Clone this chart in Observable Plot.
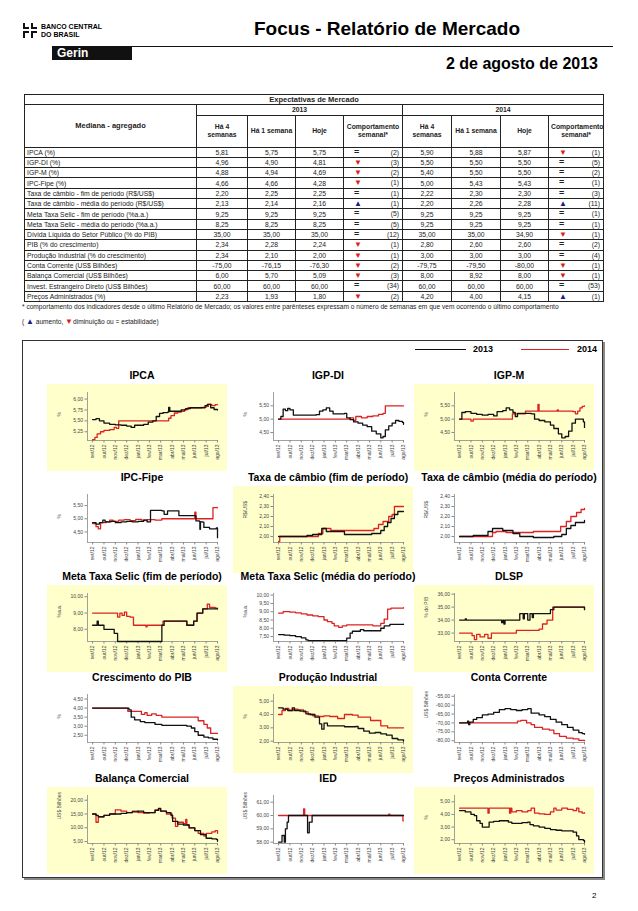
<!DOCTYPE html>
<html><head><meta charset="utf-8">
<script src="https://cdn.jsdelivr.net/npm/d3@7"></script>
<script src="https://cdn.jsdelivr.net/npm/@observablehq/plot@0.6"></script>
<style>
body{margin:0;background:#fff;font-family:"Liberation Sans",Arial,sans-serif;color:#000;}
#page{position:relative;width:638px;height:911px;overflow:hidden;background:#fff;}
.abs{position:absolute;}
#tbl{position:absolute;left:24px;top:94px;width:579px;border-collapse:collapse;table-layout:fixed;font-size:6.8px;color:#222;border:1.5px solid #111;}
#tbl td{border:1px solid #222;padding:0 2px;height:9.3px;line-height:9px;white-space:nowrap;overflow:hidden;}
#tbl td.v{text-align:center;}
#tbl td.h{text-align:center;font-weight:bold;}
#tbl td.c{position:relative;}
.sym{position:absolute;left:10px;top:0;font-size:8px;line-height:9px;}
.wk{position:absolute;right:3px;top:0;}
.cell{position:absolute;width:180px;height:87px;}
.ttl{position:absolute;width:200px;text-align:center;font-weight:bold;font-size:10.5px;}
</style></head><body><div id="page">
<svg class="abs" style="left:21px;top:22px" width="18" height="17" viewBox="0 0 18 17">
<path d="M2 1 L2 7 L8 7 L8 5 L4 5 L4 1Z M10 1 L10 7 L16 7 L16 5 L12 5 L12 1Z M2 9 L2 16 L4 16 L4 11 L8 11 L8 9Z M10 9 L10 16 L12 16 L12 11 L16 11 L16 9Z" fill="#111"/>
</svg>
<div class="abs" style="left:41px;top:23px;font-size:7px;font-weight:bold;line-height:8px;">BANCO CENTRAL<br>DO BRASIL</div>
<div class="abs" style="left:254px;top:18px;font-size:19px;font-weight:bold;">Focus - Relatório de Mercado</div>
<div class="abs" style="left:52px;top:46px;width:561px;height:1px;background:#111;"></div>
<div class="abs" style="left:52px;top:47px;width:80px;height:13px;background:#111;color:#fff;font-weight:bold;font-size:12px;line-height:13px;padding-left:5px;box-sizing:border-box;">Gerin</div>
<div class="abs" style="left:420px;top:55px;width:178px;text-align:right;font-size:16px;font-weight:bold;">2 de agosto de 2013</div>
<table id="tbl"></table>
<div class="abs" style="left:22px;top:303px;font-size:6.6px;color:#222;">* comportamento dos indicadores desde o último Relatório de Mercado; os valores entre parênteses expressam o número de semanas em que vem ocorrendo o último comportamento</div>
<div class="abs" style="left:22px;top:317px;font-size:6.6px;color:#222;">( <span style="color:#1c1c8c;font-size:8px">▲</span> aumento, <span style="color:#d81f1f;font-size:8px">▼</span>diminuição ou = estabilidade)</div>
<div class="abs" style="left:22px;top:340px;width:579px;height:536px;border:1px solid #333;box-shadow:2px 2px 0 #888;"></div>
<div class="abs" style="left:415px;top:349px;width:51px;height:1.3px;background:#111;"></div>
<div class="abs" style="left:473px;top:344px;font-size:9px;font-weight:bold;">2013</div>
<div class="abs" style="left:521px;top:349px;width:48px;height:1.3px;background:#dd2222;"></div>
<div class="abs" style="left:577px;top:344px;font-size:9px;font-weight:bold;">2014</div>
<div class="abs" style="left:592px;top:891px;font-size:8px;">2</div>
<div id="charts"></div>
</div>
<script>
// ---------- table data ----------
const indicators = ["IPCA (%)","IGP-DI (%)","IGP-M (%)","IPC-Fipe (%)","Taxa de câmbio - fim de período (R$/US$)","Taxa de câmbio - média do período (R$/US$)","Meta Taxa Selic - fim de período (%a.a.)","Meta Taxa Selic - média do período (%a.a.)","Dívida Líquida do Setor Público (% do PIB)","PIB (% do crescimento)","Produção Industrial (% do crescimento)","Conta Corrente (US$ Bilhões)","Balança Comercial (US$ Bilhões)","Invest. Estrangeiro Direto (US$ Bilhões)","Preços Administrados (%)"];
const h4_2013 = ["5,81","4,96","4,88","4,66","2,20","2,13","9,25","8,25","35,00","2,34","2,34","-75,00","6,00","60,00","2,23"];
const h1_2013 = ["5,75","4,90","4,94","4,66","2,25","2,14","9,25","8,25","35,00","2,28","2,10","-76,15","5,70","60,00","1,93"];
const hoje_2013 = ["5,75","4,81","4,69","4,28","2,25","2,16","9,25","8,25","35,00","2,24","2,00","-76,30","5,09","60,00","1,80"];
const comp_2013 = ["=","▼","▼","▼","=","▲","=","=","=","▼","▼","▼","▼","=","▼"];
const sem_2013 = ["(2)","(3)","(2)","(1)","(1)","(1)","(5)","(5)","(12)","(1)","(1)","(2)","(3)","(34)","(2)"];
const h4_2014 = ["5,90","5,50","5,40","5,00","2,22","2,20","9,25","9,25","35,00","2,80","3,00","-79,75","8,00","60,00","4,20"];
const h1_2014 = ["5,88","5,50","5,50","5,43","2,30","2,26","9,25","9,25","35,00","2,60","3,00","-79,50","8,92","60,00","4,00"];
const hoje_2014 = ["5,87","5,50","5,50","5,43","2,30","2,28","9,25","9,25","34,90","2,60","3,00","-80,00","8,00","60,00","4,15"];
const comp_2014 = ["▼","=","=","=","=","▲","=","=","▼","=","=","▼","▼","=","▲"];
const sem_2014 = ["(1)","(5)","(2)","(1)","(3)","(11)","(1)","(1)","(1)","(2)","(4)","(1)","(1)","(53)","(1)"];

// ---------- chart data: [months since set/12, value] ----------
const monthLabels = ["set/12","out/12","nov/12","dez/12","jan/13","fev/13","mar/13","abr/13","mai/13","jun/13","jul/13","ago/13"];

const ipca13 = [[0,5.53],[0.3,5.55],[0.6,5.5],[1,5.45],[1.5,5.42],[2,5.41],[2.5,5.4],[3,5.38],[3.4,5.35],[3.7,5.4],[4.5,5.42],[4.9,5.47],[5.3,5.5],[5.6,5.6],[5.9,5.67],[6.2,5.69],[6.6,5.7],[6.7,5.81],[6.8,5.72],[7.3,5.72],[7.8,5.75],[8.2,5.78],[8.6,5.8],[9.5,5.8],[9.9,5.85],[10.1,5.88],[10.4,5.8],[10.7,5.76],[11,5.75]];
const ipca14 = [[0,5.07],[0.2,5.12],[0.4,5.2],[0.7,5.25],[1,5.28],[1.5,5.3],[1.9,5.35],[2.1,5.33],[2.3,5.5],[6.5,5.5],[6.7,5.56],[6.9,5.62],[7.2,5.68],[7.5,5.7],[7.8,5.72],[8.1,5.76],[8.4,5.8],[9.6,5.81],[10,5.83],[10.2,5.88],[10.5,5.85],[10.8,5.87],[11,5.87]];
const igpdi13 = [[0,5.0],[0.2,5.1],[0.4,5.38],[0.6,5.32],[0.8,5.4],[1.0,5.35],[1.3,5.15],[3.3,5.17],[3.6,5.3],[3.9,5.35],[4.2,5.42],[4.5,5.3],[4.8,5.2],[5.5,5.2],[5.8,5.22],[6.0,5.05],[6.3,4.98],[6.6,4.9],[7.0,4.85],[7.4,4.78],[7.8,4.72],[8.2,4.55],[8.6,4.45],[9.0,4.3],[9.2,4.35],[9.4,4.6],[9.7,4.75],[10.0,4.85],[10.3,4.95],[10.6,4.92],[10.9,4.88],[11,4.81]];
const igpdi14 = [[0,5.0],[6.0,5.0],[6.3,5.05],[6.6,4.95],[6.8,5.1],[7.3,5.05],[7.8,5.1],[8.3,5.12],[8.8,5.18],[9.2,5.22],[9.4,5.5],[11,5.5]];
const igpm13 = [[0,5.0],[0.2,5.25],[0.5,5.28],[1,5.22],[1.5,5.18],[2,5.15],[2.5,5.18],[3,5.12],[3.3,5.28],[3.8,5.32],[4.1,5.42],[4.4,5.35],[4.7,5.25],[4.9,5.1],[5.1,5.22],[6.3,5.2],[6.6,5.0],[7.0,4.95],[7.5,4.9],[8.0,4.78],[8.3,4.65],[8.7,4.45],[9.0,4.3],[9.3,4.35],[9.6,4.55],[9.9,4.85],[10.2,5.0],[10.6,5.0],[10.9,4.9],[11,4.69]];
const igpm14 = [[0,5.0],[1.0,4.93],[1.2,5.0],[4.6,5.0],[4.65,5.2],[5.6,5.2],[5.8,5.3],[6.8,5.3],[6.9,5.55],[7.0,5.3],[8.5,5.3],[8.6,5.35],[8.7,5.3],[10.0,5.28],[10.2,5.2],[10.4,5.3],[10.6,5.42],[10.8,5.48],[11,5.5]];
const fipe13 = [[0,4.85],[0.3,4.8],[0.6,4.85],[0.9,4.95],[1.1,4.88],[1.6,4.9],[2,4.85],[2.5,4.88],[3,4.9],[3.5,4.88],[4,4.9],[4.5,4.95],[4.8,4.88],[5.1,5.32],[6.1,5.3],[6.3,5.17],[6.6,5.3],[7.5,5.3],[7.6,5.12],[9.0,5.12],[9.1,4.92],[9.4,4.9],[9.45,4.6],[9.5,4.88],[9.7,4.87],[9.8,4.67],[10.3,4.62],[10.9,4.65],[11,4.28]];
const fipe14 = [[0,4.82],[0.3,4.7],[0.5,4.62],[0.7,4.85],[1.2,4.88],[1.5,4.95],[1.8,4.9],[2.3,4.95],[2.8,4.97],[3.3,4.93],[3.8,4.98],[4.3,4.95],[4.8,4.97],[5.5,4.95],[6.1,5.0],[8.9,5.0],[9.0,5.25],[9.1,5.0],[10.5,5.0],[10.6,5.42],[11,5.43]];
const cambioFim13 = [[0,2.0],[2.5,2.01],[3.0,2.02],[3.8,2.08],[4.2,2.05],[5.8,2.02],[8.2,2.03],[9.0,2.06],[9.3,2.1],[9.6,2.14],[9.9,2.18],[10.2,2.22],[10.5,2.25],[11,2.25]];
const cambioFim14 = [[0,1.95],[0.1,2.0],[3.3,2.0],[3.5,2.03],[3.9,2.08],[4.6,2.06],[8.1,2.06],[8.4,2.08],[8.8,2.12],[9.2,2.15],[9.7,2.2],[10.0,2.22],[10.2,2.3],[11,2.3]];
const cambioMed13 = [[0,2.0],[1.2,2.01],[2.5,2.05],[2.9,2.08],[3.8,2.06],[4.7,2.03],[5.3,2.0],[6.5,1.99],[8.3,2.0],[9.0,2.02],[9.4,2.08],[9.8,2.11],[10.2,2.14],[10.8,2.14],[11,2.16]];
const cambioMed14 = [[0,2.0],[2.9,2.04],[3.2,2.05],[4.1,2.04],[6.5,2.05],[8.6,2.05],[8.9,2.1],[9.4,2.15],[9.8,2.2],[10.3,2.24],[10.7,2.27],[11,2.28]];
const selicFim13 = [[0,8.25],[0.4,8.5],[0.5,8.25],[1.0,8.0],[1.9,7.75],[2.2,7.25],[6.1,8.25],[6.3,8.5],[8.3,8.25],[8.9,8.5],[9.2,9.0],[9.7,9.25],[11,9.25]];
const selicFim14 = [[0,9.0],[2.2,8.75],[2.4,9.0],[2.6,8.85],[2.8,9.05],[3.0,8.8],[3.3,8.75],[3.6,8.25],[4.7,8.15],[4.8,8.25],[6.0,8.25],[6.2,8.5],[8.3,8.25],[8.9,8.5],[9.2,9.0],[9.7,9.25],[10.1,9.55],[10.3,9.35],[10.8,9.3],[11,9.25]];
const selicMed13 = [[0,7.62],[0.5,7.58],[1,7.55],[1.5,7.5],[2,7.42],[2.4,7.3],[2.6,7.25],[6.0,7.4],[6.3,7.7],[6.5,7.82],[7.2,7.92],[7.5,7.85],[8.9,7.85],[9.0,8.0],[9.3,8.15],[9.8,8.23],[11,8.25]];
const selicMed14 = [[0,8.92],[0.4,9.0],[1.0,8.97],[1.5,8.93],[2.0,8.87],[2.5,8.8],[3.0,8.75],[3.5,8.7],[4.0,8.5],[4.3,8.4],[4.7,8.3],[4.9,8.15],[5.3,8.05],[5.6,8.15],[6.0,8.2],[8.3,8.15],[9.0,8.3],[9.3,8.55],[9.6,9.15],[9.9,9.22],[11,9.25]];
const dlsp13 = [[0,34.0],[0.5,34.1],[0.6,34.0],[3.7,33.8],[3.8,34.0],[3.9,33.7],[4.0,34.0],[5.3,34.5],[5.6,34.1],[5.7,34.5],[6.0,34.0],[6.2,34.5],[6.4,34.2],[6.5,34.5],[8.0,34.8],[8.3,35.0],[10.9,35.0],[11,34.8]];
const dlsp14 = [[0,33.0],[1.1,32.8],[1.3,32.5],[1.5,32.9],[1.8,32.7],[2.2,32.9],[2.5,32.6],[2.8,33.0],[5.0,33.2],[7.0,33.3],[7.3,33.7],[7.7,34.0],[8.2,35.0],[10.8,35.0],[11,34.85]];
const pib13 = [[0,4.0],[3.2,3.9],[3.4,3.5],[3.7,3.35],[4.2,3.25],[4.6,3.2],[5.5,3.1],[6.1,3.05],[8.3,3.0],[8.7,2.9],[9.0,2.7],[9.3,2.5],[9.8,2.4],[10.2,2.35],[10.6,2.28],[11,2.24]];
const pib14 = [[0,4.0],[3.1,3.82],[4.3,3.65],[4.6,3.75],[4.8,3.6],[5.2,3.68],[5.6,3.6],[6.1,3.5],[9.1,3.5],[9.3,3.3],[9.8,3.1],[10.1,2.9],[10.4,2.6],[11,2.6]];
const prod13 = [[0,4.5],[0.4,4.4],[0.8,4.3],[1.2,4.5],[1.4,4.3],[1.9,4.25],[2.4,4.05],[2.8,4.0],[3.2,3.8],[3.6,3.3],[3.8,2.9],[4.0,3.35],[4.3,3.15],[5.8,3.08],[6.8,3.1],[7.0,2.95],[7.5,2.75],[8.0,2.6],[8.5,2.65],[9.0,2.55],[9.5,2.45],[10.0,2.2],[10.5,2.1],[11,2.0]];
const prod14 = [[0,4.0],[0.3,4.3],[0.6,4.45],[0.9,4.3],[1.3,4.4],[1.7,4.35],[2.2,4.2],[2.6,4.0],[3.0,3.9],[3.5,3.85],[4.0,3.9],[4.5,3.85],[5.2,3.7],[5.8,4.0],[6.5,3.95],[7.0,3.8],[8.1,3.55],[9.0,3.15],[9.6,3.0],[11,3.0]];
const conta13 = [[0,-70],[0.7,-69],[0.8,-71],[0.9,-69.5],[1.2,-68],[1.5,-67],[2.0,-65.5],[2.5,-65],[3.0,-64],[3.5,-62.5],[4.0,-62],[4.5,-62.5],[5.0,-63],[5.5,-62.5],[6.0,-62],[6.3,-64.5],[7.0,-65.5],[7.5,-66.5],[8.0,-68],[8.5,-69.5],[9.0,-71],[9.5,-72.5],[10.0,-74],[10.5,-75.5],[10.8,-76],[11,-76.3]];
const conta14 = [[0,-70],[5.1,-69],[5.4,-68.5],[5.9,-70],[6.3,-71],[6.6,-72.5],[7.3,-73.5],[7.9,-74],[8.3,-76],[8.8,-77.5],[9.4,-78.5],[10.0,-79],[10.5,-79.8],[11,-80.0]];
const balanca13 = [[0,15],[0.3,14.5],[0.5,14],[1,14.5],[1.5,15],[2.5,15.2],[3,15.5],[3.5,15.8],[4,16],[4.5,15.5],[5.2,15.5],[5.5,16.3],[5.8,17],[6,16],[6.5,15.5],[6.9,14.5],[7.05,12.3],[7.5,11.3],[8,11],[8.5,10],[9,9],[9.5,7.5],[10,6.2],[10.5,6.0],[10.9,5.8],[11,5.09]];
const balanca14 = [[0,15],[0.3,12],[0.5,14],[1,14.5],[1.5,15],[2,16.5],[2.5,16],[3,15.5],[3.5,16],[4,15.5],[4.5,15.3],[5,15.5],[5.5,16.5],[6,16],[6.5,15],[7,13.5],[7.3,10.5],[7.5,12],[8,11.5],[8.2,13],[8.3,11],[8.5,10],[9,9],[9.3,8],[9.8,7],[10,8],[10.5,8.5],[10.8,9],[11,8.0]];
const ied13 = [[0,58],[0.3,58.5],[0.5,58],[0.6,59],[0.75,59.5],[0.87,60],[2.55,58.7],[2.7,59.5],[2.95,60],[11,60]];
const ied14 = [[0,60],[2.2,60.5],[2.3,60],[9.7,60.1],[9.8,60],[10.95,59.6],[11,59.6]];
const precos13 = [[0,4.3],[0.5,4.2],[1,4.0],[1.3,3.9],[1.5,3.5],[1.8,3.3],[2.0,3.0],[2.6,3.4],[3.0,3.45],[3.5,3.5],[4.3,3.4],[4.6,3.3],[5.5,3.35],[6.0,3.4],[6.2,3.2],[6.5,3.1],[7.0,3.0],[7.5,2.9],[8.0,2.8],[8.5,2.75],[9.0,2.7],[10.0,2.6],[10.3,2.3],[10.5,2.0],[10.9,1.95],[11,1.8]];
const precos14 = [[0,4.5],[2.5,4.1],[2.6,4.5],[4.4,4.1],[4.5,4.5],[4.6,4.2],[5.0,4.3],[5.5,4.2],[6.0,4.3],[6.3,4.5],[6.6,4.1],[7.0,4.05],[7.5,4.0],[8.0,4.2],[8.3,4.5],[8.5,4.35],[9.0,4.5],[9.5,4.4],[10.0,4.3],[10.3,4.5],[10.5,4.2],[10.8,4.1],[11,4.15]];

// y tick values
const ticksIpca = [5.25,5.5,5.75,6.0];
const ticksIgp = [4.5,5.0,5.5];
const ticksFipe = [4.5,5.0,5.5];
const ticksCambio = [2.0,2.1,2.2,2.3,2.4];
const ticksSelicFim = [8,9,10];
const ticksSelicMed = [7.5,8,8.5,9,9.5,10];
const ticksDlsp = [33,34,35,36];
const ticksPib = [2.5,3,3.5,4,4.5];
const ticksProd = [2,3,4,5];
const ticksConta = [-80,-75,-70,-65,-60,-55];
const ticksBalanca = [5,10,15,20];
const ticksIed = [58,59,60,61];
const ticksPrecos = [2,3,4,5];

// ---------- table ----------
(function buildTable(){
  const t = document.getElementById("tbl");
  const widths = [172,51,48,48,59,49,49,48,55];
  let html = "<colgroup>" + widths.map(w=>`<col style="width:${w}px">`).join("") + "</colgroup>";
  html += `<tr><td colspan="9" class="h" style="font-size:7.5px">Expectativas de Mercado</td></tr>`;
  html += `<tr><td rowspan="2" class="h" style="font-size:7.5px">Mediana - agregado</td><td colspan="4" class="h">2013</td><td colspan="4" class="h">2014</td></tr>`;
  const hdr = ["Há 4<br>semanas","Há 1 semana","Hoje","Comportamento<br>semanal*"];
  html += `<tr style="height:31px">` + [...hdr,...hdr].map(h=>`<td class="h" style="height:31px;line-height:8px;white-space:normal">${h}</td>`).join("") + "</tr>";
  const sym = s => s==="▲" ? `<span class="sym" style="color:#1c1c8c">▲</span>` : s==="▼" ? `<span class="sym" style="color:#d81f1f">▼</span>` : `<span class="sym" style="font-weight:bold;font-size:9px">=</span>`;
  indicators.forEach((lab,i)=>{
    html += `<tr><td>${lab}</td><td class="v">${h4_2013[i]}</td><td class="v">${h1_2013[i]}</td><td class="v">${hoje_2013[i]}</td><td class="c">${sym(comp_2013[i])}<span class="wk">${sem_2013[i]}</span></td>`+
            `<td class="v">${h4_2014[i]}</td><td class="v">${h1_2014[i]}</td><td class="v">${hoje_2014[i]}</td><td class="c">${sym(comp_2014[i])}<span class="wk">${sem_2014[i]}</span></td></tr>`;
  });
  t.innerHTML = html;
})();

// ---------- charts ----------
const charts = [
  {title:"IPCA", s13:ipca13, s14:ipca14, ticks:ticksIpca, domain:[5.05,6.15], label:"%"},
  {title:"IGP-DI", s13:igpdi13, s14:igpdi14, ticks:ticksIgp, domain:[4.2,6.0], label:"%"},
  {title:"IGP-M", s13:igpm13, s14:igpm14, ticks:ticksIgp, domain:[4.2,6.0], label:"%"},
  {title:"IPC-Fipe", s13:fipe13, s14:fipe14, ticks:ticksFipe, domain:[4.1,5.92], label:"%"},
  {title:"Taxa de câmbio (fim de período)", s13:cambioFim13, s14:cambioFim14, ticks:ticksCambio, domain:[1.94,2.42], label:"R$/US$"},
  {title:"Taxa de câmbio (média do período)", s13:cambioMed13, s14:cambioMed14, ticks:ticksCambio, domain:[1.94,2.42], label:"R$/US$"},
  {title:"Meta Taxa Selic (fim de período)", s13:selicFim13, s14:selicFim14, ticks:ticksSelicFim, domain:[7.25,10.2], label:"%a.a."},
  {title:"Meta Taxa Selic (média do período)", s13:selicMed13, s14:selicMed14, ticks:ticksSelicMed, domain:[7.2,10.1], label:"%a.a."},
  {title:"DLSP", s13:dlsp13, s14:dlsp14, ticks:ticksDlsp, domain:[32.35,36.05], label:"% do PIB"},
  {title:"Crescimento do PIB", s13:pib13, s14:pib14, ticks:ticksPib, domain:[2.1,4.75], label:"%"},
  {title:"Produção Industrial", s13:prod13, s14:prod14, ticks:ticksProd, domain:[1.9,5.5], label:"%"},
  {title:"Conta Corrente", s13:conta13, s14:conta14, ticks:ticksConta, domain:[-81,-54], label:"US$ Bilhões"},
  {title:"Balança Comercial", s13:balanca13, s14:balanca14, ticks:ticksBalanca, domain:[4.3,21.7], label:"US$ Bilhões"},
  {title:"IED", s13:ied13, s14:ied14, ticks:ticksIed, domain:[57.9,61.5], label:"US$ Bilhões"},
  {title:"Preços Administrados", s13:precos13, s14:precos14, ticks:ticksPrecos, domain:[1.7,5.5], label:"%"}
];
const colLeft = [47, 233, 414];
const rowTop = [384, 486, 585, 686, 787];
const fmt = v => v.toFixed(2).replace(".", ",");
const monthIdx = monthLabels.map((_, i) => i);
const xDomain = [-0.45, 11];
const holder = document.getElementById("charts");

charts.forEach((c, i) => {
  const col = i % 3, row = Math.floor(i / 3);
  const yellow = (col + row) % 2 === 0;
  const title = document.createElement("div");
  title.className = "ttl";
  title.style.left = (colLeft[col] - 10 + 5) + "px";
  title.style.top = (rowTop[row] - 15) + "px";
  title.textContent = c.title;
  holder.appendChild(title);
  const cell = document.createElement("div");
  cell.className = "cell";
  cell.style.left = colLeft[col] + "px";
  cell.style.top = rowTop[row] + "px";
  if (yellow) cell.style.background = "#ffffcc";
  const svg = Plot.plot({
    width: 180, height: 87,
    marginLeft: 40, marginRight: 10, marginTop: 8, marginBottom: 31,
    style: {background: "transparent", fontFamily: "'Liberation Sans', Arial, sans-serif", fontSize: "5px", color: "#444", overflow: "visible"},
    x: {domain: xDomain, axis: null},
    y: {domain: c.domain, axis: null},
    marks: [
      Plot.ruleX([xDomain[0]], {stroke: "#888", strokeWidth: 0.8}),
      Plot.ruleY([c.domain[0]], {stroke: "#888", strokeWidth: 0.8}),
      Plot.axisX({ticks: monthIdx, tickFormat: d => monthLabels[d], tickRotate: -90, tickSize: 2.5, tickPadding: 1.5, fontSize: 5, stroke: "#888", fill: "#444", label: null}),
      Plot.axisY({ticks: c.ticks, tickFormat: fmt, tickSize: 2.5, tickPadding: 2, fontSize: 5, stroke: "#888", fill: "#444", label: null}),
      Plot.text([c.label], {frameAnchor: "left", rotate: -90, dx: -28, text: d => d, fontSize: 5, fill: "#444"}),
      Plot.line(c.s14, {x: d => d[0], y: d => d[1], stroke: "#dd2222", strokeWidth: 1.3, curve: "step-after"}),
      Plot.line(c.s13, {x: d => d[0], y: d => d[1], stroke: "#111", strokeWidth: 1.3, curve: "step-after"})
    ]
  });
  cell.appendChild(svg);
  holder.appendChild(cell);
});
</script>
</body></html>
